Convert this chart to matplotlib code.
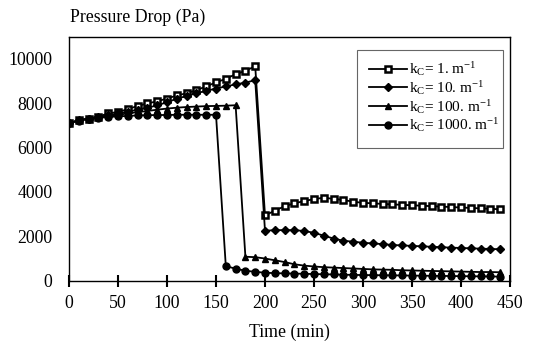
import matplotlib
matplotlib.use("Agg")
import matplotlib.pyplot as plt
from matplotlib.patches import Rectangle

plt.rcParams['font.family'] = 'Liberation Serif'
plt.rcParams['mathtext.fontset'] = 'custom'
plt.rcParams['mathtext.rm'] = 'Liberation Serif'
plt.rcParams['mathtext.it'] = 'Liberation Serif:italic'

# time (min) and pressure drop (Pa) for each k_c
t_k1 = list(range(0, 200, 10)) + list(range(200, 450, 10))
p_k1 = [7100, 7240, 7310, 7400, 7540, 7610, 7730, 7880, 7990, 8090,
        8210, 8350, 8450, 8590, 8760, 8940, 9100, 9310, 9460, 9670,
        2950, 3150, 3360, 3490, 3590, 3680, 3740, 3690, 3640, 3560,
        3510, 3490, 3460, 3440, 3420, 3400, 3380, 3360, 3340, 3320,
        3300, 3280, 3260, 3240, 3220]

t_k10 = list(range(0, 200, 10)) + list(range(200, 450, 10))
p_k10 = [7100, 7230, 7300, 7380, 7460, 7540, 7620, 7710, 7800, 7900,
         8050, 8200, 8330, 8450, 8560, 8660, 8760, 8850, 8930, 9040,
         2250, 2280, 2280, 2280, 2240, 2160, 2030, 1900, 1800, 1760,
         1710, 1680, 1650, 1610, 1590, 1570, 1550, 1530, 1510, 1490,
         1475, 1460, 1445, 1430, 1420]

t_k100 = list(range(0, 180, 10)) + list(range(180, 450, 10))
p_k100 = [7100, 7230, 7300, 7360, 7420, 7480, 7540, 7600, 7650, 7710,
          7760, 7800, 7830, 7850, 7870, 7880, 7890, 7910,
          1080, 1060, 1000, 920, 840, 740, 680, 640, 610, 590,
          570, 550, 530, 510, 500, 490, 470, 460, 450, 440,
          430, 420, 410, 400, 390, 390, 380]

t_k1000 = list(range(0, 160, 10)) + list(range(160, 450, 10))
p_k1000 = [7100, 7220, 7290, 7340, 7380, 7410, 7430, 7450, 7460, 7470,
           7470, 7480, 7480, 7480, 7480, 7480,
           660, 540, 450, 400, 360, 340, 330, 320, 310, 300,
           290, 280, 270, 260, 255, 250, 245, 240, 235, 230,
           225, 220, 215, 210, 205, 200, 195, 190, 185]

labels = [r'k$_{\rm C}$= 1. m$^{-1}$', r'k$_{\rm C}$= 10. m$^{-1}$',
          r'k$_{\rm C}$= 100. m$^{-1}$', r'k$_{\rm C}$= 1000. m$^{-1}$']

W, H = 533, 345
fig = plt.figure(figsize=(W / 100, H / 100), dpi=100)
ax = fig.add_axes([0.1295, 0.1864, 0.8273, 0.7072])

ax.plot(t_k1, p_k1, color='black', lw=1.3, marker='s', ms=5,
        mfc='white', mec='black', mew=1.8, label=labels[0])
ax.plot(t_k10, p_k10, color='black', lw=1.3, marker='D', ms=4,
        mfc='black', mec='black', label=labels[1])
ax.plot(t_k100, p_k100, color='black', lw=1.3, marker='^', ms=5,
        mfc='black', mec='black', label=labels[2])
ax.plot(t_k1000, p_k1000, color='black', lw=1.3, marker='o', ms=5,
        mfc='black', mec='black', label=labels[3])

ax.set_xlim(0, 450)
ax.set_ylim(0, 11000)
ax.set_xticks(range(0, 451, 50))
ax.set_yticks(range(0, 10001, 2000))
ax.tick_params(axis='x', direction='inout', length=9, width=1.5, pad=6, labelsize=12.8)
ax.tick_params(axis='y', length=0, pad=12, labelsize=12.8)
ax.set_xlabel('Time (min)', fontsize=12.8, labelpad=8)
for s in ax.spines.values():
    s.set_linewidth(1.0)

fig.text(0.131, 1 - 17 / H, 'Pressure Drop (Pa)', fontsize=12.8, va='center', ha='left')

# legend box drawn separately, entries placed inside
box = Rectangle((357 / W, 1 - 148 / H), 146 / W, 98 / H,
                transform=fig.transFigure, facecolor='white',
                edgecolor='#666666', lw=0.8, zorder=5, clip_on=False)
ax.add_patch(box)
leg = ax.legend(loc='upper left', bbox_to_anchor=(369 / W, 1 - 60 / H),
                bbox_transform=fig.transFigure, fontsize=11, frameon=False,
                handlelength=2.5, handletextpad=0.15, labelspacing=0.05,
                borderpad=0, borderaxespad=0)
leg.set_zorder(6)

fig.savefig('out.png', dpi=100)
